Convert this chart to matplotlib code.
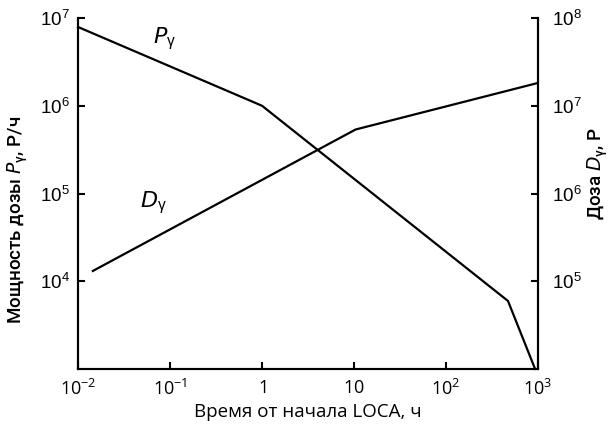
import numpy as np
import matplotlib.pyplot as plt
from matplotlib.ticker import FixedLocator, FuncFormatter

# Dose rate P_gamma (R/h) vs time after LOCA (h), left axis
p_hours = [0.01, 1.0, 472, 930]
p_rate = [7.9e6, 1.0e6, 5.96e3, 1.0e3]

# Accumulated dose D_gamma (R) vs time, right axis
d_hours = [0.0145, 10.4, 1000]
d_dose = [1.31e5, 5.36e6, 1.82e7]

x_ticks = [1e-2, 1e-1, 1, 10, 1e2, 1e3]
x_labels = ["10^{-2}", "10^{-1}", "1", "10", "10^{2}", "10^{3}"]
left_ticks = [1e4, 1e5, 1e6, 1e7]
right_ticks = [1e5, 1e6, 1e7, 1e8]

TICK_FONT = "Liberation Sans"
XTICK_FONT = "Open Sans"
LABEL_FONT = "Roboto"


def pow_label(v, pos=None):
    e = int(round(np.log10(v)))
    return r"$\mathregular{10^{%d}}$" % e


fig = plt.figure(figsize=(6.14, 4.38), dpi=100)
ax = fig.add_axes([78 / 614, 1 - 369 / 438, 460 / 614, 351 / 438])
ax2 = ax.twinx()

lw = 1.6
ax.plot(p_hours, p_rate, color="black", lw=lw, solid_joinstyle="miter", clip_on=False)
ax2.plot(d_hours, d_dose, color="black", lw=lw, solid_joinstyle="miter")

ax.set_xscale("log")
ax.set_yscale("log")
ax2.set_yscale("log")
ax.set_xlim(1e-2, 1e3)
ax.set_ylim(1e3, 1e7)
ax2.set_ylim(1e4, 1e8)

for a in (ax, ax2):
    a.spines["top"].set_visible(False)
    for s in ("left", "right", "bottom"):
        a.spines[s].set_linewidth(1.5)
    a.minorticks_off()

ax.xaxis.set_major_locator(FixedLocator(x_ticks))
ax.xaxis.set_minor_locator(FixedLocator([]))
ax.set_xticklabels([r"$\mathregular{%s}$" % s for s in x_labels],
                   fontfamily=XTICK_FONT, fontsize=13)
ax.tick_params(axis="x", direction="in", length=5, width=1.5, pad=7)

ax.yaxis.set_major_locator(FixedLocator(left_ticks))
ax.yaxis.set_minor_locator(FixedLocator([]))
ax.yaxis.set_major_formatter(FuncFormatter(pow_label))
ax.tick_params(axis="y", direction="in", length=5, width=1.5, pad=6)
for t in ax.get_yticklabels():
    t.set_fontfamily(TICK_FONT)
    t.set_fontsize(13.5)

ax2.yaxis.set_major_locator(FixedLocator(right_ticks))
ax2.yaxis.set_minor_locator(FixedLocator([]))
ax2.yaxis.set_major_formatter(FuncFormatter(pow_label))
ax2.tick_params(axis="y", direction="in", length=5, width=1.5, pad=10)
for t in ax2.get_yticklabels():
    t.set_fontfamily(TICK_FONT)
    t.set_fontsize(13.5)

ax.set_xlabel("Время от начала LOCA, ч", fontfamily=XTICK_FONT, fontsize=13.5, labelpad=3)

fig.text(18 / 614, 1 - 220 / 438, r"Мощность дозы $\mathregular{\mathit{P}_{\gamma}}$, Р/ч",
         rotation=90, ha="center", va="center", fontfamily=LABEL_FONT,
         fontweight="medium", fontsize=13.5)
fig.text(598 / 614, 1 - 174 / 438, r"Доза $\mathregular{\mathit{D}_{\gamma}}$, Р",
         rotation=90, ha="center", va="center", fontfamily=LABEL_FONT,
         fontweight="medium", fontsize=13.5)

# curve labels
ax.text(0.066, 5.2e6, r"$\mathregular{\mathit{P}_{\gamma}}$", fontfamily=TICK_FONT,
        fontsize=16, va="baseline")
ax.text(0.047, 7.0e4, r"$\mathregular{\mathit{D}_{\gamma}}$", fontfamily=TICK_FONT,
        fontsize=16, va="baseline")

fig.savefig("out.png", dpi=100)
